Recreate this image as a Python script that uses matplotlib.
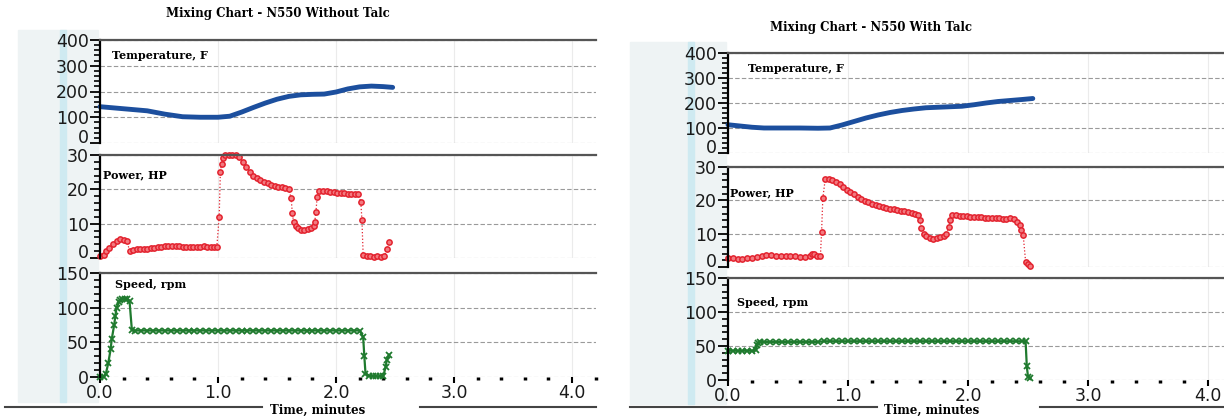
import matplotlib.pyplot as plt
from matplotlib.ticker import MultipleLocator, FormatStrFormatter
from matplotlib.patches import Rectangle
from matplotlib.lines import Line2D

# ---- N550 without talc ----
temp1_t = [0.0, 0.2, 0.4, 0.55, 0.7, 0.85, 1.0, 1.1, 1.2, 1.3, 1.4, 1.5, 1.6, 1.7,
           1.8, 1.9, 2.0, 2.1, 2.2, 2.3, 2.4, 2.48]
temp1 = [141, 133, 125, 112, 102, 100, 100, 104, 120, 138, 155, 170, 181, 187,
         189, 190, 198, 210, 218, 221, 219, 216]

power1_t = [0.00, 0.03, 0.05, 0.08, 0.11, 0.14, 0.17, 0.20, 0.23, 0.25, 0.28, 0.31, 0.34,
            0.37, 0.40, 0.43, 0.46, 0.49, 0.52, 0.55, 0.58, 0.61, 0.64, 0.67, 0.70, 0.73,
            0.76, 0.79, 0.82, 0.85, 0.88, 0.91, 0.94, 0.97, 0.99, 1.01, 1.02, 1.03, 1.04,
            1.06, 1.09, 1.12, 1.15, 1.18, 1.21, 1.24, 1.27, 1.30, 1.33, 1.36, 1.39, 1.42,
            1.45, 1.48, 1.51, 1.54, 1.57, 1.60, 1.62, 1.63, 1.64, 1.66, 1.68, 1.70, 1.73,
            1.76, 1.79, 1.81, 1.82, 1.83, 1.84, 1.86, 1.89, 1.92, 1.95, 1.98, 2.01, 2.04,
            2.07, 2.10, 2.13, 2.16, 2.19, 2.21, 2.22, 2.23, 2.26, 2.29, 2.32, 2.35, 2.38,
            2.41, 2.43, 2.45]
power1 = [0.5, 1.0, 2.0, 3.0, 4.2, 5.0, 5.5, 5.3, 5.0, 2.0, 2.4, 2.6, 2.7,
          2.6, 2.7, 2.8, 2.9, 3.2, 3.3, 3.4, 3.6, 3.5, 3.4, 3.6, 3.3, 3.2,
          3.2, 3.3, 3.1, 3.2, 3.4, 3.1, 3.2, 3.1, 3.3, 12.0, 25.0, 27.5, 29.0,
          30.0, 30.0, 30.0, 30.0, 29.5, 28.0, 26.5, 25.0, 24.0, 23.3, 22.8, 22.2, 21.7,
          21.3, 21.0, 20.8, 20.6, 20.4, 20.0, 17.4, 13.0, 10.6, 9.2, 8.6, 8.3, 8.2,
          8.5, 8.8, 9.2, 10.6, 13.5, 17.7, 19.6, 19.5, 19.4, 19.3, 19.2, 19.0, 19.0,
          18.8, 18.7, 18.6, 18.6, 18.5, 16.4, 11.0, 0.9, 0.5, 0.5, 0.4, 0.5, 0.4,
          0.6, 2.5, 4.8]

speed1_t = [0.00, 0.03, 0.05, 0.07, 0.09, 0.10, 0.12, 0.13, 0.14, 0.16, 0.17, 0.19, 0.21,
            0.23, 0.25, 0.27, 0.30, 0.35, 0.40, 0.45, 0.50, 0.55, 0.60, 0.65, 0.70, 0.75,
            0.80, 0.85, 0.90, 0.95, 1.00, 1.05, 1.10, 1.15, 1.20, 1.25, 1.30, 1.35, 1.40,
            1.45, 1.50, 1.55, 1.60, 1.65, 1.70, 1.75, 1.80, 1.85, 1.90, 1.95, 2.00, 2.05,
            2.10, 2.15, 2.20, 2.23, 2.24, 2.25, 2.28, 2.31, 2.34, 2.37, 2.40, 2.42, 2.43,
            2.45]
speed1 = [0, 0, 5, 20, 40, 55, 75, 88, 100, 108, 111, 113, 113,
          112, 110, 68, 67, 67, 67, 67, 67, 67, 67, 67, 67, 67,
          67, 67, 67, 67, 67, 67, 67, 67, 67, 67, 67, 67, 67,
          67, 67, 67, 67, 67, 67, 67, 67, 67, 67, 67, 67, 67,
          67, 67, 67, 58, 30, 5, 2, 1, 1, 1, 1, 14, 24,
          32]

# ---- N550 with talc ----
temp2_t = [0.0, 0.1, 0.2, 0.3, 0.45, 0.6, 0.75, 0.85, 0.95, 1.05, 1.15, 1.25, 1.35,
           1.45, 1.55, 1.65, 1.75, 1.85, 1.95, 2.05, 2.15, 2.25, 2.35, 2.45, 2.54]
temp2 = [113, 108, 103, 100, 100, 100, 99, 100, 112, 126, 140, 152, 162,
         170, 176, 181, 183, 185, 187, 193, 200, 206, 210, 214, 218]

power2_t = [0.00, 0.04, 0.08, 0.12, 0.16, 0.20, 0.24, 0.28, 0.32, 0.36, 0.40, 0.44, 0.48,
            0.52, 0.56, 0.60, 0.64, 0.68, 0.70, 0.72, 0.74, 0.77, 0.78, 0.79, 0.81, 0.84,
            0.87, 0.90, 0.93, 0.96, 0.99, 1.02, 1.05, 1.08, 1.11, 1.14, 1.17, 1.20, 1.23,
            1.26, 1.29, 1.32, 1.35, 1.38, 1.41, 1.44, 1.47, 1.50, 1.53, 1.56, 1.58, 1.60,
            1.61, 1.63, 1.65, 1.68, 1.71, 1.74, 1.77, 1.80, 1.82, 1.84, 1.85, 1.87, 1.90,
            1.93, 1.96, 1.99, 2.02, 2.05, 2.08, 2.11, 2.14, 2.17, 2.20, 2.23, 2.26, 2.29,
            2.32, 2.35, 2.38, 2.41, 2.43, 2.44, 2.46, 2.48, 2.50, 2.52]
power2 = [2.8, 2.6, 2.5, 2.5, 2.7, 2.8, 2.9, 3.2, 3.5, 3.7, 3.3, 3.2, 3.4,
          3.3, 3.2, 3.1, 3.0, 3.2, 3.8, 4.0, 3.4, 3.2, 10.6, 20.6, 26.3, 26.4,
          26.2, 25.6, 24.8, 24.0, 23.2, 22.5, 21.8, 21.0, 20.4, 19.8, 19.4, 18.9, 18.5,
          18.2, 18.0, 17.7, 17.5, 17.3, 17.1, 16.9, 16.7, 16.5, 16.3, 16.0, 15.5, 14.0,
          11.6, 10.0, 9.2, 8.8, 8.5, 8.7, 8.9, 9.4, 10.0, 12.0, 14.0, 15.6, 15.5,
          15.4, 15.3, 15.2, 15.1, 15.0, 15.0, 14.9, 14.8, 14.8, 14.7, 14.6, 14.6, 14.5,
          14.5, 14.6, 14.4, 13.5, 12.6, 11.0, 9.6, 1.6, 0.8, 0.3]

speed2_t = [0.00, 0.04, 0.08, 0.12, 0.16, 0.20, 0.23, 0.24, 0.25, 0.27, 0.30, 0.35, 0.40,
            0.45, 0.50, 0.55, 0.60, 0.65, 0.70, 0.75, 0.80, 0.85, 0.90, 0.95, 1.00, 1.05,
            1.10, 1.15, 1.20, 1.25, 1.30, 1.35, 1.40, 1.45, 1.50, 1.55, 1.60, 1.65, 1.70,
            1.75, 1.80, 1.85, 1.90, 1.95, 2.00, 2.05, 2.10, 2.15, 2.20, 2.25, 2.30, 2.35,
            2.40, 2.45, 2.48, 2.49, 2.50, 2.52]
speed2 = [43, 43, 43, 43, 43, 43, 44, 51, 55, 56, 56, 56, 56,
          56, 56, 56, 56, 56, 56, 56, 57, 57, 57, 57, 57, 57,
          57, 57, 57, 57, 57, 57, 57, 57, 57, 57, 57, 57, 57,
          57, 57, 57, 57, 57, 57, 57, 57, 57, 57, 57, 57, 57,
          57, 57, 57, 20, 5, 3]

BLUE = '#1c4f9e'
RED = '#e3232f'
GREEN = '#1f7a2e'
W, H = 1224, 416

fig = plt.figure(figsize=(W / 100, H / 100), dpi=100)
serif = 'DejaVu Serif'


def add_ax(left, right, top, bottom):
    return fig.add_axes([left / W, 1 - bottom / H, (right - left) / W, (bottom - top) / H])


def style(ax, ymax, major, minor, xmax, last):
    ax.set_xlim(0, xmax)
    ax.set_ylim(0, ymax)
    ax.set_yticks(range(0, ymax + 1, major))
    ax.yaxis.set_minor_locator(MultipleLocator(minor))
    ax.xaxis.set_major_locator(MultipleLocator(1))
    ax.xaxis.set_minor_locator(MultipleLocator(0.2))
    ax.xaxis.set_major_formatter(FormatStrFormatter('%.1f'))
    ax.grid(axis='y', which='major', color='#9a9a9a', lw=0.8, ls=(0, (4, 2)))
    ax.grid(axis='x', which='major', color='#ebebeb', lw=0.8)
    ax.set_axisbelow(True)
    ax.spines['right'].set_visible(False)
    ax.spines['bottom'].set_visible(False)
    ax.spines['top'].set_color('#555555')
    ax.spines['top'].set_linewidth(1.6)
    ax.spines['left'].set_linewidth(1.6)
    ax.tick_params(axis='y', which='major', length=7, width=1.3, labelsize=12.5,
                   labelcolor='#1a1a1a', pad=1)
    ax.tick_params(axis='y', which='minor', length=4, width=1.2)
    if last:
        ax.tick_params(axis='x', which='major', length=4, width=1.5, labelsize=12.5,
                       labelcolor='#1a1a1a', pad=1)
        ax.tick_params(axis='x', which='minor', length=2, width=2.5)
    else:
        ax.tick_params(axis='x', which='both', bottom=False, labelbottom=False)
        # keep the stacked "0" clear of the next panel's top label
        ax.get_yticklabels()[0].set_va('baseline')


def panel(left, right, rows, xmax, tt, tv, pt, pv, st, sv, lab_pos):
    ax1 = add_ax(left, right, *rows[0])
    ax2 = add_ax(left, right, *rows[1])
    ax3 = add_ax(left, right, *rows[2])
    style(ax1, 400, 100, 20, xmax, False)
    style(ax2, 30, 10, 2, xmax, False)
    style(ax3, 150, 50, 10, xmax, True)
    ax1.plot(tt, tv, color=BLUE, lw=3.5, solid_capstyle='round', clip_on=False)
    ax2.plot(pt, pv, color=RED, lw=0.9, ls=':', marker='o', ms=3.8,
             mfc='#f27a80', mec=RED, mew=1.1, clip_on=False)
    ax3.plot(st, sv, color=GREEN, lw=1.6, marker='x', ms=5, mew=1.3, clip_on=False)
    names = ['Temperature, F', 'Power, HP', 'Speed, rpm']
    for ax, name, (x, y) in zip([ax1, ax2, ax3], names, lab_pos):
        ax.text(x, y, name, transform=ax.transAxes, fontfamily=serif,
                fontweight='bold', fontsize=8, va='center', ha='left')


# pale scanned background in the left margins
for x0, x1, y0, y1, stripe in [(18, 98, 30, 402, 60), (630, 726, 42, 404, 688)]:
    fig.patches.append(Rectangle((x0 / W, 1 - y1 / H), (x1 - x0) / W, (y1 - y0) / H,
                                 transform=fig.transFigure, color='#eef3f4', zorder=-2))
    fig.patches.append(Rectangle((stripe / W, 1 - y1 / H), 6 / W, (y1 - y0) / H,
                                 transform=fig.transFigure, color='#cfeaf1', zorder=-1))

panel(100, 596, [(40, 143), (155, 258), (273, 377)], (596 - 100) / 118,
      temp1_t, temp1, power1_t, power1, speed1_t, speed1,
      [(0.024, 0.85), (0.006, 0.81), (0.03, 0.885)])
panel(728, 1224, [(53, 153), (167, 267), (278, 380)], (1224 - 728) / 120,
      temp2_t, temp2, power2_t, power2, speed2_t, speed2,
      [(0.04, 0.85), (0.004, 0.74), (0.018, 0.76)])

fig.text(278 / W, 1 - 13 / H, 'Mixing Chart - N550 Without Talc', fontfamily=serif,
         fontweight='bold', fontsize=8.5, ha='center', va='center')
fig.text(871 / W, 1 - 28 / H, 'Mixing Chart - N550 With Talc', fontfamily=serif,
         fontweight='bold', fontsize=8.5, ha='center', va='center')
fig.text(318 / W, 1 - 410 / H, 'Time, minutes', fontfamily=serif,
         fontweight='bold', fontsize=8.5, ha='center', va='center')
fig.text(932 / W, 1 - 410 / H, 'Time, minutes', fontfamily=serif,
         fontweight='bold', fontsize=8.5, ha='center', va='center')

for x0, x1, y in [(5, 262, 407), (420, 596, 407), (630, 877, 407), (1040, 1224, 407)]:
    fig.add_artist(Line2D([x0 / W, x1 / W], [1 - y / H, 1 - y / H], color='#444444', lw=1.5))

fig.savefig('out.png', dpi=100)
